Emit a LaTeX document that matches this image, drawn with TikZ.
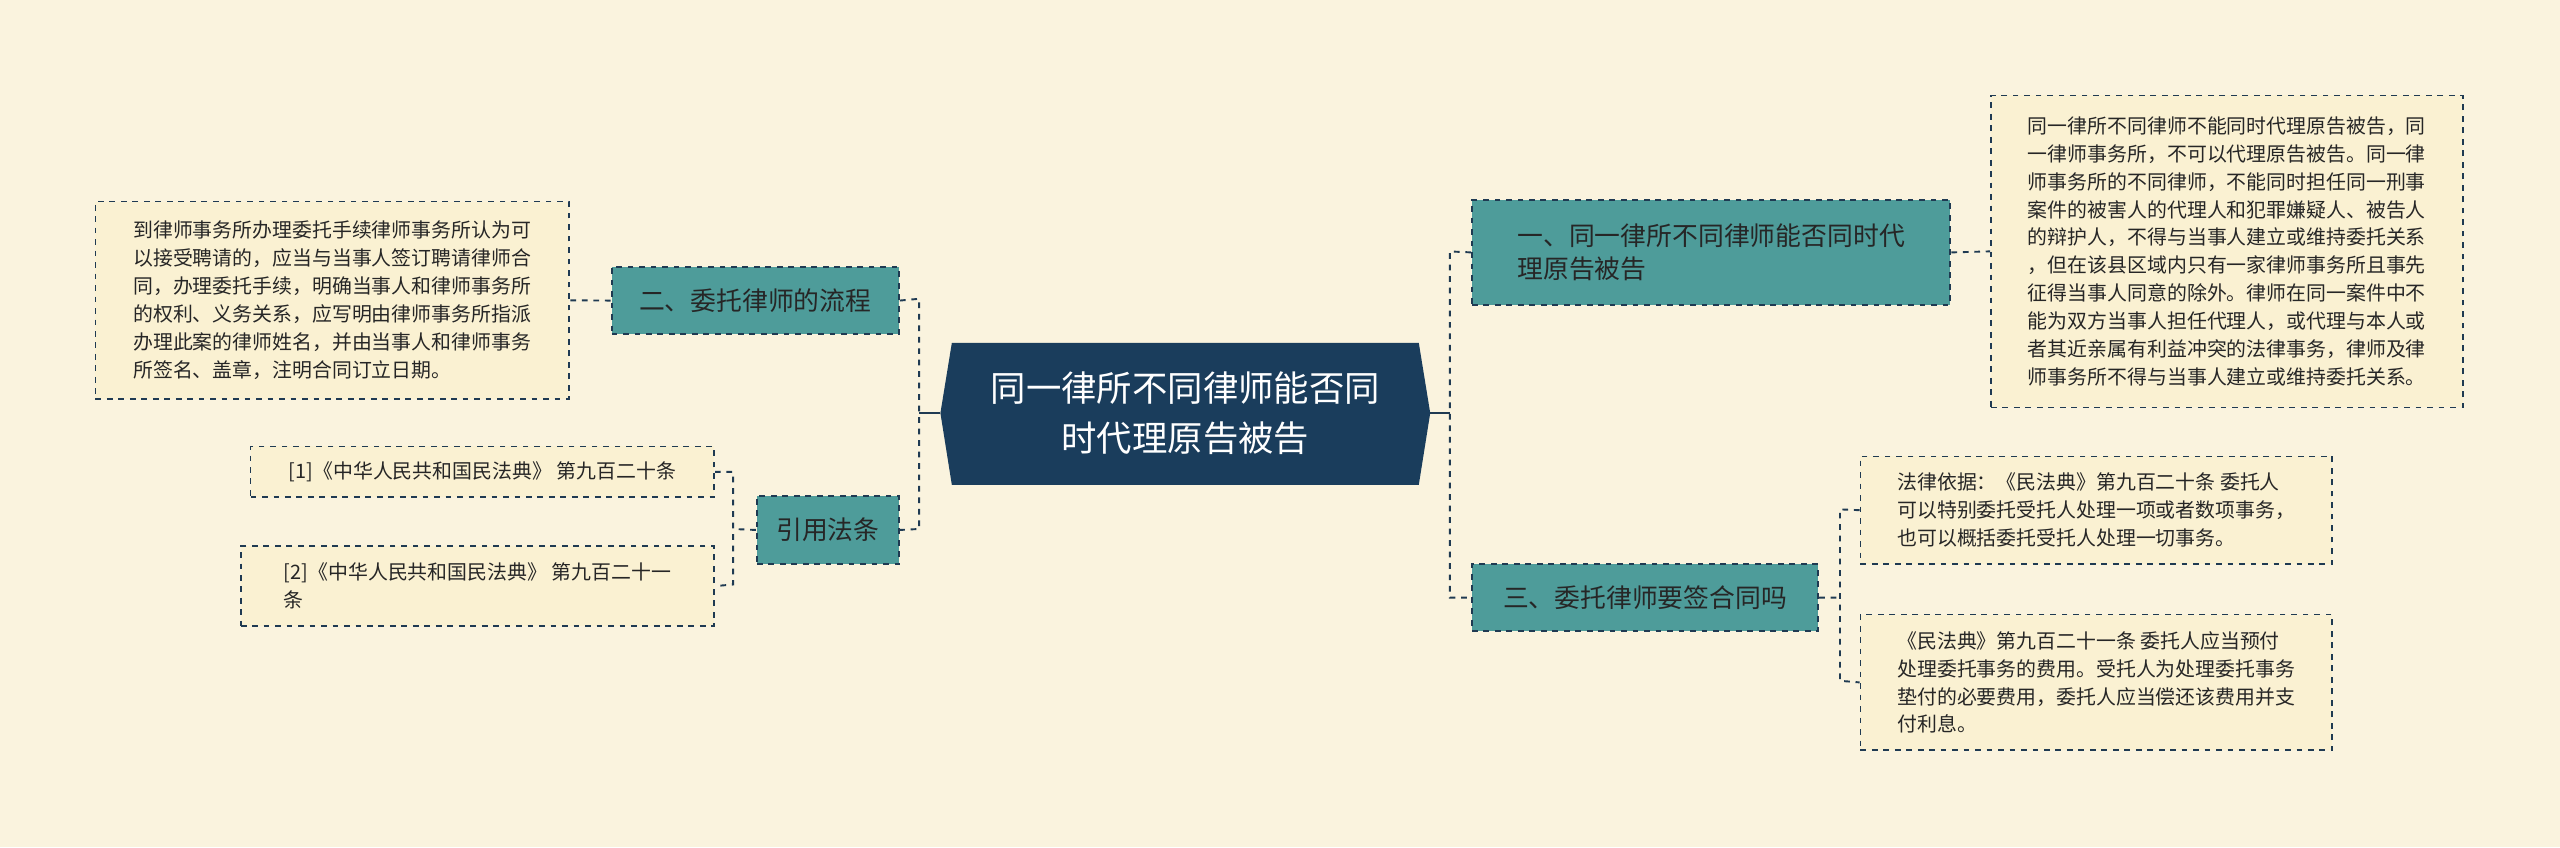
\documentclass[tikz,border=0pt]{standalone}
\usepackage{fontspec}
\setmainfont{Noto Sans CJK SC}
\XeTeXlinebreaklocale "zh"
\XeTeXlinebreakskip=0pt plus 1pt
\usetikzlibrary{shapes.geometric}
\definecolor{bgcol}{HTML}{FAF3DE}
\definecolor{rootcol}{HTML}{1A3D5C}
\definecolor{branchcol}{HTML}{4E9C9A}
\definecolor{leafcol}{HTML}{FAF1D2}
\definecolor{linecol}{HTML}{1F3A52}
\tikzset{
  branch/.style={draw=linecol,dashed,line width=1pt,fill=branchcol,text=black!85,
    font=\fontsize{13.5}{17}\selectfont,align=left,inner sep=6pt,anchor=north west},
  leaf/.style={draw=linecol,dashed,line width=0.8pt,fill=leafcol,text=black!85,
    font=\fontsize{10.4}{14.6}\selectfont,align=left,inner sep=5pt,anchor=north west},
  link/.style={draw=linecol,dashed,line width=1pt}
}
\begin{document}
\begin{tikzpicture}[x=0.03cm,y=-0.03cm]
    \fill[bgcol] (0,0) rectangle (1568,519);
    % root
    \fill[rootcol] (583,210) -- (869,210) -- (876,253) -- (869,297) -- (583,297) -- (576,253) -- cycle;
    \node[text=white,font=\fontsize{18.5}{26}\selectfont,align=center] (root) at (726,253)
      {同一律所不同律师能否同\\时代理原告被告};
    \coordinate (rootL) at (576,253);
    \coordinate (rootR) at (876,253);
    % left side
    \node[branch,minimum width=176*0.03cm,minimum height=41*0.03cm] (flow) at (374,163) {二、委托律师的流程};
    \node[branch,minimum width=87*0.03cm,minimum height=42*0.03cm] (law) at (463,303) {引用法条};
    \node[leaf,minimum width=290*0.03cm,minimum height=121*0.03cm] (flowtxt) at (58,123)
      {到律师事务所办理委托手续律师事务所认为可\\以接受聘请的，应当与当事人签订聘请律师合\\同，办理委托手续，明确当事人和律师事务所\\的权利、义务关系，应写明由律师事务所指派\\办理此案的律师姓名，并由当事人和律师事务\\所签名、盖章，注明合同订立日期。};
    \node[leaf,minimum width=284*0.03cm,minimum height=31*0.03cm] (law1) at (153,273)
      {[1]《中华人民共和国民法典》 第九百二十条};
    \node[leaf,minimum width=290*0.03cm,minimum height=49*0.03cm] (law2) at (147,334)
      {[2]《中华人民共和国民法典》 第九百二十一\\条};
    % right side
    \node[branch,minimum width=293*0.03cm,minimum height=64*0.03cm] (same) at (901,122)
      {一、同一律所不同律师能否同时代\\理原告被告};
    \node[branch,minimum width=212*0.03cm,minimum height=41*0.03cm] (sign) at (901,345) {三、委托律师要签合同吗};
    \node[leaf,minimum width=289*0.03cm,minimum height=191*0.03cm] (sametxt) at (1219,58)
      {同一律所不同律师不能同时代理原告被告，同\\一律师事务所，不可以代理原告被告。同一律\\师事务所的不同律师，不能同时担任同一刑事\\案件的被害人的代理人和犯罪嫌疑人、被告人\\的辩护人，不得与当事人建立或维持委托关系\\，但在该县区域内只有一家律师事务所且事先\\征得当事人同意的除外。律师在同一案件中不\\能为双方当事人担任代理人，或代理与本人或\\者其近亲属有利益冲突的法律事务，律师及律\\师事务所不得与当事人建立或维持委托关系。};
    \node[leaf,minimum width=289*0.03cm,minimum height=66*0.03cm] (sign1) at (1139,279)
      {法律依据：《民法典》第九百二十条 委托人\\可以特别委托受托人处理一项或者数项事务，\\也可以概括委托受托人处理一切事务。};
    \node[leaf,minimum width=289*0.03cm,minimum height=83*0.03cm] (sign2) at (1139,376)
      {《民法典》第九百二十一条 委托人应当预付\\处理委托事务的费用。受托人为处理委托事务\\垫付的必要费用，委托人应当偿还该费用并支\\付利息。};
    % connectors
    \draw[linecol,line width=1pt] (rootL) -- (563,253);
    \draw[linecol,line width=1pt] (rootR) -- (888,253);
    \draw[link] (flow.east) -- (563,183) -- (563,324) -- (law.east);
    \draw[link] (same.west) -- (888,154) -- (888,366) -- (sign.west);
    \draw[link] (flow.west) -- (flowtxt.east);
    \draw[link] (same.east) -- (sametxt.west);
    \draw[link] (law.west) -- (449,324);
    \draw[link] (law1.east) -- (449,289) -- (449,358) -- (law2.east);
    \draw[link] (sign.east) -- (1127,366);
    \draw[link] (sign1.west) -- (1127,312) -- (1127,417) -- (sign2.west);
\end{tikzpicture}
\end{document}
